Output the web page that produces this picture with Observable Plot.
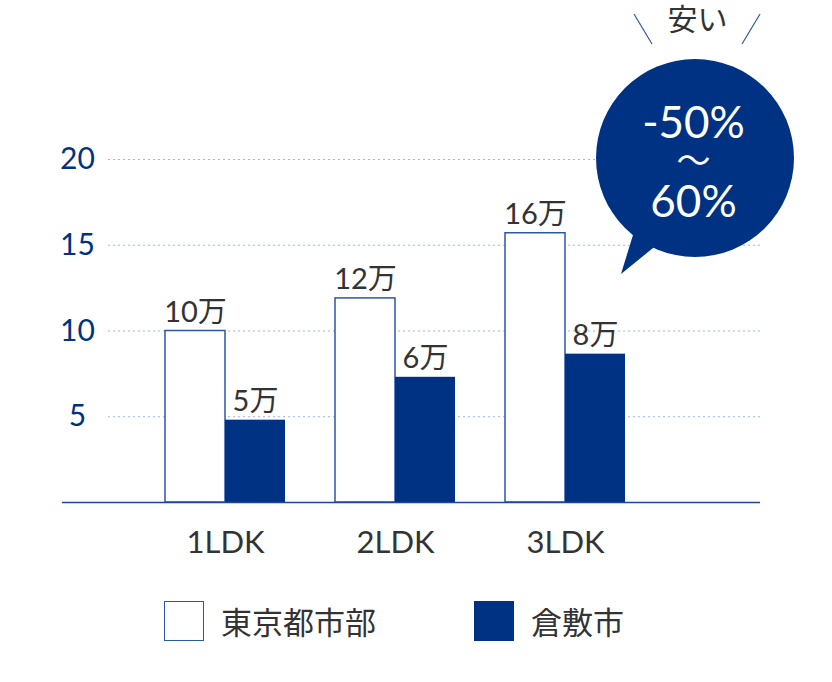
<!DOCTYPE html>
<html><head><meta charset="utf-8">
<script src="https://cdn.jsdelivr.net/npm/d3@7"></script>
<script src="https://cdn.jsdelivr.net/npm/@observablehq/plot@0.6"></script>
<style>
body{margin:0;background:#fff;font-family:Lato,"Noto Sans CJK JP",sans-serif;}
#wrap{position:relative;width:832px;height:682px;overflow:hidden;}
#legend{position:absolute;left:0;top:580px;width:832px;height:100px;}
.sw{position:absolute;top:21px;width:40px;height:40px;box-sizing:border-box;}
.lt{position:absolute;top:21px;height:40px;line-height:40px;font-size:31px;color:#333;font-family:"Noto Sans CJK JP",sans-serif;}
</style></head><body><div id="wrap"><div id="chart"></div><div id="legend"></div></div>
<script>
const categories = ["1LDK", "2LDK", "3LDK"];
const series = ["東京都市部", "倉敷市"];
const tokyoValues = [10, 11.9, 15.7];
const kurashikiValues = [4.8, 7.3, 8.65];
const tokyoLabels = ["10万", "12万", "16万"];
const kurashikiLabels = ["5万", "6万", "8万"];
const yTicks = [5, 10, 15, 20];
const calloutHead = "安い";
const calloutLines = ["-50%", "～", "60%"];
const calloutAt = {cat: "3LDK", value: 20};

const NAVY = "#003283";
const EDGE = "#2d56a6";
const GRID = "#9db5e6";
const TEXT = "#333333";
const FONT = "Lato, 'Noto Sans CJK JP', sans-serif";

const tokyo = categories.map((c, i) => ({cat: c, value: tokyoValues[i], label: tokyoLabels[i], series: series[0]}));
const kura = categories.map((c, i) => ({cat: c, value: kurashikiValues[i], label: kurashikiLabels[i], series: series[1]}));

function bubble(index, scales) {
  const x = scales.x, y = scales.y;
  const bw = x.bandwidth ? x.bandwidth() : 0;
  const cx = x(calloutAt.cat) + bw / 2 + 130;
  const cy = y(calloutAt.value) - 1;
  const g = d3.create("svg:g");
  g.append("path")
    .attr("d", `M${cx - 56},${cy + 57.5} L${cx - 74},${cy + 116} L${cx - 26},${cy + 77} Z`)
    .attr("fill", NAVY);
  g.append("circle").attr("cx", cx).attr("cy", cy).attr("r", 99).attr("fill", NAVY);
  g.append("line").attr("x1", cx - 61).attr("y1", cy - 144).attr("x2", cx - 43).attr("y2", cy - 114)
    .attr("stroke", EDGE).attr("stroke-width", 1.2);
  g.append("line").attr("x1", cx + 65).attr("y1", cy - 144).attr("x2", cx + 47).attr("y2", cy - 114)
    .attr("stroke", EDGE).attr("stroke-width", 1.2);
  return g.node();
}

const chart = Plot.plot({
  width: 832,
  height: 580,
  marginTop: 159,
  marginBottom: 78,
  marginLeft: 108,
  marginRight: 72,
  style: {fontFamily: FONT, background: "transparent", overflow: "visible"},
  x: {type: "band", domain: categories, range: [164.3, 625], paddingInner: 0.2956, paddingOuter: 0},
  y: {domain: [0, 20]},
  marks: [
    Plot.ruleY(yTicks, {stroke: GRID, strokeWidth: 1, strokeDasharray: "2,3"}),
    Plot.barY(tokyo, {x: "cat", y: "value", fill: "white", stroke: EDGE, strokeWidth: 1.5, insetRight: 60}),
    Plot.barY(kura, {x: "cat", y: "value", fill: NAVY, insetLeft: 60}),
    Plot.ruleY([0], {stroke: "#1b469c", strokeWidth: 1.5, insetLeft: -46}),
    Plot.text(tokyo, {x: "cat", y: "value", text: "label", dx: -30, dy: -9, lineAnchor: "bottom", fontSize: 29, fill: TEXT}),
    Plot.text(kura, {x: "cat", y: "value", text: "label", dx: 30, dy: -9, lineAnchor: "bottom", fontSize: 29, fill: TEXT}),
    Plot.axisY(yTicks, {tickSize: 0, tickPadding: 31, textAnchor: "middle", fontSize: 30, color: NAVY, label: null}),
    Plot.axisX({tickSize: 0, tickPadding: 28, fontSize: 31, color: TEXT, label: null}),
    bubble,
    Plot.text([calloutAt], {x: "cat", y: "value", text: () => calloutLines[0], dx: 128, dy: -36, fontSize: 44, fill: "white", lineAnchor: "middle"}),
    Plot.text([calloutAt], {x: "cat", y: "value", text: () => calloutLines[1], dx: 128, dy: 3, fontSize: 34, fill: "white", lineAnchor: "middle"}),
    Plot.text([calloutAt], {x: "cat", y: "value", text: () => calloutLines[2], dx: 128, dy: 43, fontSize: 44, fill: "white", lineAnchor: "middle"}),
    Plot.text([calloutAt], {x: "cat", y: "value", text: () => calloutHead, dx: 132, dy: -139, fontSize: 30, fill: TEXT, lineAnchor: "middle"})
  ]
});
document.getElementById("chart").appendChild(chart);

const legend = document.getElementById("legend");
const legendItems = [
  {name: series[0], fill: "white", border: `1.5px solid ${EDGE}`, left: 164},
  {name: series[1], fill: NAVY, border: "none", left: 474}
];
for (const it of legendItems) {
  const sw = document.createElement("div");
  sw.className = "sw";
  sw.style.left = it.left + "px";
  sw.style.background = it.fill;
  sw.style.border = it.border;
  legend.appendChild(sw);
  const t = document.createElement("div");
  t.className = "lt";
  t.style.left = (it.left + 57) + "px";
  t.textContent = it.name;
  legend.appendChild(t);
}
</script>
</body></html>
